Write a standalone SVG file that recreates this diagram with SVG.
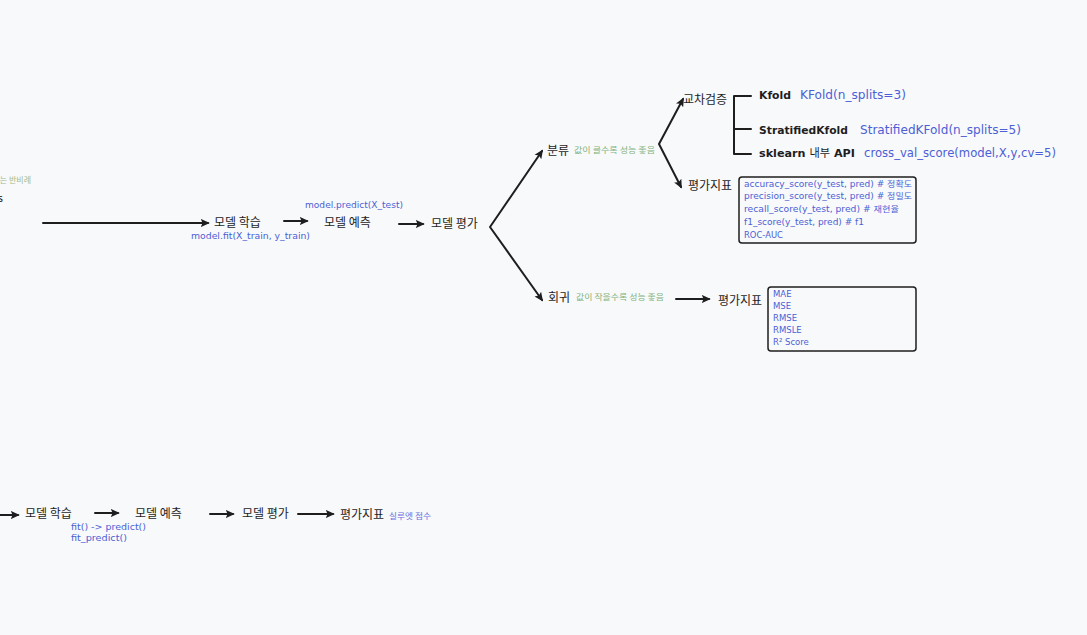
<svg xmlns="http://www.w3.org/2000/svg" width="1087" height="635" viewBox="0 0 1087 635">
<defs>
<marker id="ah" viewBox="0 0 10 10" refX="8" refY="5" markerWidth="9" markerHeight="9" orient="auto-start-reverse" markerUnits="userSpaceOnUse">
<path d="M0,0.5 L10,5 L0,9.5 L2,5 z" fill="#1e1e1e"/>
</marker>
<style>
.k{font-family:"Noto Sans CJK KR","Noto Sans",sans-serif;font-size:12px;fill:#1e1e1e}
.b{font-family:"DejaVu Sans","Noto Sans CJK KR",sans-serif;fill:#4c5fd5}
.s{font-size:8.5px}
.m{font-size:11.5px}
.g{font-family:"Noto Sans CJK KR",sans-serif;font-size:8px;fill:#82b27a}
.bd{font-family:"DejaVu Sans","Noto Sans CJK KR",sans-serif;font-size:11px;font-weight:bold;fill:#1e1e1e}
.ln{stroke:#1e1e1e;stroke-width:2;fill:none;stroke-linecap:round;stroke-linejoin:round}
.ar{marker-end:url(#ah)}
.ar2{marker-start:url(#ah);marker-end:url(#ah)}
.box{fill:none;stroke:#1e1e1e;stroke-width:1.5}
</style>
</defs>
<rect width="1087" height="635" fill="#f8f9fb"/>

<g id="connectors">
<line class="ln ar" x1="43" y1="223" x2="208" y2="223"/>
<line class="ln ar" x1="284" y1="221" x2="307" y2="221"/>
<line class="ln ar" x1="399" y1="224" x2="423" y2="224"/>
<polyline class="ln ar2" points="542,151 490,227 542,300"/>
<polyline class="ln ar2" points="683,99 659,144 681,187"/>
<polyline class="ln" points="751,96 734,96 734,154 751,154"/>
<line class="ln" x1="734" y1="129" x2="751" y2="129"/>
<line class="ln ar" x1="676" y1="299" x2="709" y2="299"/>
<line class="ln ar" x1="0" y1="515" x2="18" y2="515"/>
<line class="ln ar" x1="95" y1="513" x2="118" y2="513"/>
<line class="ln ar" x1="210" y1="514" x2="233" y2="514"/>
<line class="ln ar" x1="298" y1="514" x2="333" y2="514"/>
</g>

<g id="edge-left">
<text class="g" x="31" y="183" text-anchor="end" style="fill:#a0b98a">는 반비례</text>
<text class="k" x="3" y="202" text-anchor="end" style="font-size:11px">s</text>
</g>

<g id="train">
<text class="k" x="214" y="227">모델 학습</text>
<text class="b s" x="191" y="239" textLength="119" lengthAdjust="spacingAndGlyphs">model.fit(X_train, y_train)</text>
</g>
<g id="predict">
<text class="k" x="324" y="227">모델 예측</text>
<text class="b s" x="305" y="208" textLength="98" lengthAdjust="spacingAndGlyphs">model.predict(X_test)</text>
</g>
<g id="evaluate">
<text class="k" x="431" y="228">모델 평가</text>
</g>

<g id="classification">
<text class="k" x="547" y="155">분류</text>
<text class="g" x="574" y="153" textLength="81" lengthAdjust="spacingAndGlyphs">값이 클수록 성능 좋음</text>
</g>
<g id="cv">
<text class="k" x="683" y="104">교차검증</text>
</g>
<g id="kfold">
<text class="bd" x="759" y="99" textLength="32" lengthAdjust="spacingAndGlyphs">Kfold</text>
<text class="b m" x="800" y="99" textLength="106" lengthAdjust="spacingAndGlyphs">KFold(n_splits=3)</text>
</g>
<g id="skfold">
<text class="bd" x="759" y="134" textLength="89" lengthAdjust="spacingAndGlyphs">StratifiedKfold</text>
<text class="b m" x="860" y="134" textLength="161" lengthAdjust="spacingAndGlyphs">StratifiedKFold(n_splits=5)</text>
</g>
<g id="sklearn">
<text class="bd" x="759" y="157" textLength="96" lengthAdjust="spacingAndGlyphs">sklearn <tspan style="font-family:'Noto Sans CJK KR';font-weight:normal">내부</tspan> API</text>
<text class="b m" x="864" y="157" textLength="192" lengthAdjust="spacingAndGlyphs">cross_val_score(model,X,y,cv=5)</text>
</g>
<g id="cls-metric">
<text class="k" x="688" y="190">평가지표</text>
</g>
<g id="cls-box">
<rect class="box" x="739" y="177" width="177" height="66" rx="3"/>
<text class="b s" x="744" y="187" textLength="168" lengthAdjust="spacingAndGlyphs">accuracy_score(y_test, pred) # 정확도</text>
<text class="b s" x="744" y="199" textLength="168" lengthAdjust="spacingAndGlyphs">precision_score(y_test, pred) # 정밀도</text>
<text class="b s" x="744" y="212" textLength="155" lengthAdjust="spacingAndGlyphs">recall_score(y_test, pred) # 재현율</text>
<text class="b s" x="744" y="225" textLength="120" lengthAdjust="spacingAndGlyphs">f1_score(y_test, pred) # f1</text>
<text class="b s" x="744" y="238" textLength="39" lengthAdjust="spacingAndGlyphs">ROC-AUC</text>
</g>

<g id="regression">
<text class="k" x="548" y="302">회귀</text>
<text class="g" x="576" y="300" textLength="88" lengthAdjust="spacingAndGlyphs">값이 작을수록 성능 좋음</text>
</g>
<g id="reg-metric">
<text class="k" x="718" y="305">평가지표</text>
</g>
<g id="reg-box">
<rect class="box" x="768" y="287" width="148" height="64" rx="3"/>
<text class="b s" x="773" y="297">MAE</text>
<text class="b s" x="773" y="309">MSE</text>
<text class="b s" x="773" y="321">RMSE</text>
<text class="b s" x="773" y="333">RMSLE</text>
<text class="b s" x="773" y="345">R² Score</text>
</g>

<g id="b-train">
<text class="k" x="25" y="518">모델 학습</text>
<text class="b s" x="71" y="530" textLength="75" lengthAdjust="spacingAndGlyphs">fit() -&gt; predict()</text>
<text class="b s" x="71" y="541" textLength="56" lengthAdjust="spacingAndGlyphs">fit_predict()</text>
</g>
<g id="b-predict">
<text class="k" x="135" y="518">모델 예측</text>
</g>
<g id="b-evaluate">
<text class="k" x="242" y="518">모델 평가</text>
</g>
<g id="b-metric">
<text class="k" x="340" y="519">평가지표</text>
<text class="g" x="389" y="519" style="fill:#6a6ee0" textLength="42" lengthAdjust="spacingAndGlyphs">실루엣 점수</text>
</g>
</svg>
